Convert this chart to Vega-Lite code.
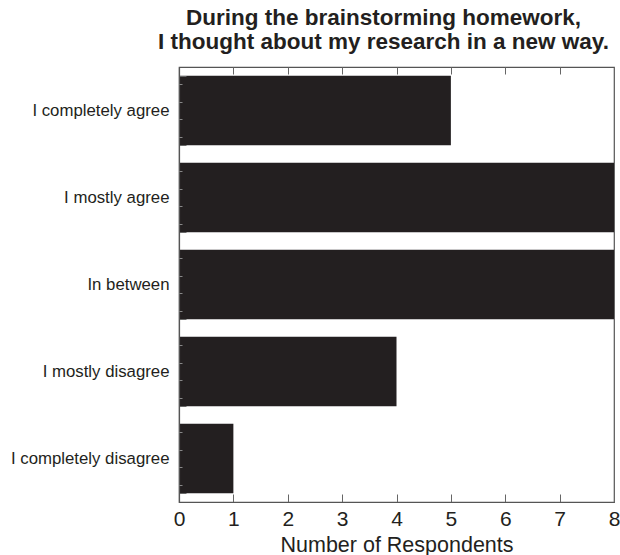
{
  "$schema": "https://vega.github.io/schema/vega-lite/v6.json",
  "autosize": {"type": "none"},
  "padding": {"left": 179, "top": 67, "right": 6, "bottom": 53},
  "width": 435,
  "height": 435,
  "config": {
    "font": "Liberation Sans",
    "view": {"stroke": "#555", "strokeWidth": 1.2},
    "axis": {"domainColor": "#555", "tickColor": "#666", "labelColor": "#231f20", "titleColor": "#231f20", "grid": false, "domainWidth": 1.2}
  },
  "title": {
    "text": ["During the brainstorming homework,", "I thought about my research in a new way."],
    "fontSize": 22.5,
    "fontWeight": "bold",
    "color": "#231f20",
    "anchor": "middle",
    "frame": "group",
    "dx": -13,
    "offset": 6,
    "lineHeight": 24
  },
  "layer": [
    {
      "data": {"values": [
        {"response": "I completely agree", "count": 5},
        {"response": "I mostly agree", "count": 8},
        {"response": "In between", "count": 8},
        {"response": "I mostly disagree", "count": 4},
        {"response": "I completely disagree", "count": 1}
      ]},
      "mark": {"type": "bar", "color": "#231f20"},
      "encoding": {
        "y": {
          "field": "response", "type": "nominal", "sort": null,
          "scale": {"paddingInner": 0.2, "paddingOuter": 0.1},
          "axis": {"title": null, "labelFontSize": 16.8, "labelPadding": 17, "tickBand": "extent", "tickSize": -7, "zindex": 1}
        },
        "x": {
          "field": "count", "type": "quantitative",
          "scale": {"domain": [0, 8], "nice": false},
          "axis": {"title": "Number of Respondents", "titleFontSize": 21.5, "titleFontWeight": "normal", "labelFontSize": 21, "labelFlush": false, "tickSize": -8, "labelPadding": 14, "titlePadding": 5, "values": [0, 1, 2, 3, 4, 5, 6, 7, 8], "zindex": 1}
        }
      }
    },
    {
      "data": {"values": [{"v": 0, "w": 0}, {"v": 5, "w": 8}]},
      "mark": {"type": "point", "opacity": 0},
      "encoding": {
        "y": {
          "field": "v", "type": "quantitative",
          "scale": {"domain": [0, 5], "nice": false, "zero": false, "reverse": true},
          "axis": {"orient": "left", "values": [0.2, 0.4, 0.6, 0.8, 1.2, 1.4, 1.6, 1.8, 2.2, 2.4, 2.6, 2.8, 3.2, 3.4, 3.6, 3.8, 4.2, 4.4, 4.6, 4.8], "tickSize": -3, "labels": false, "domain": false, "title": null, "zindex": 1, "tickColor": "#888"}
        },
        "x": {
          "field": "w", "type": "quantitative",
          "scale": {"domain": [0, 8], "nice": false},
          "axis": {"orient": "top", "values": [1, 2, 3, 4, 5, 6, 7], "tickSize": -7, "labels": false, "domain": false, "title": null, "zindex": 1}
        }
      }
    }
  ],
  "resolve": {"scale": {"x": "independent", "y": "independent"}}
}
